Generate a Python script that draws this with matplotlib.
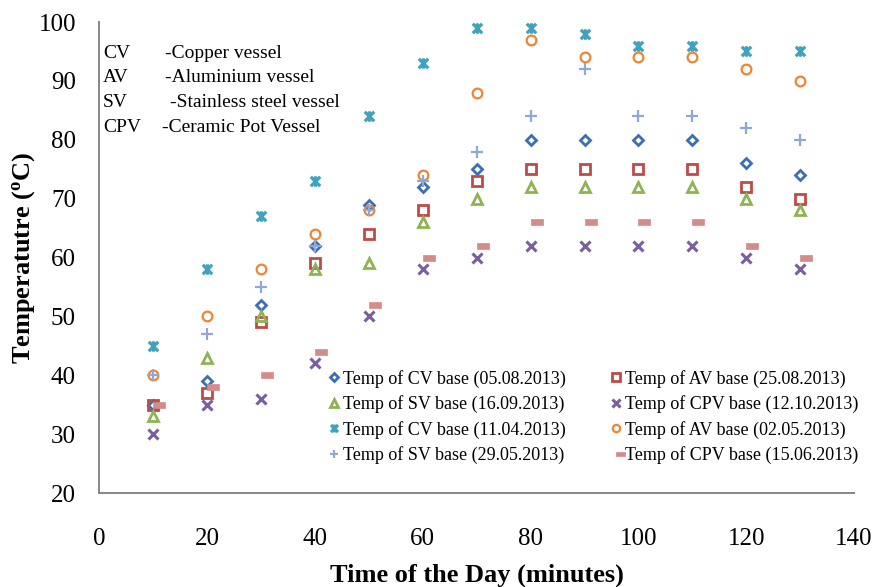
import numpy as np
import matplotlib
matplotlib.use('Agg')
import matplotlib.pyplot as plt
from matplotlib.path import Path

plt.rcParams['font.family'] = ['Liberation Serif', 'DejaVu Serif']
plt.rcParams['mathtext.fontset'] = 'custom'
plt.rcParams['mathtext.rm'] = 'Liberation Serif'
plt.rcParams['mathtext.bf'] = 'Liberation Serif:bold'

# data (minutes, deg C)
minutes = [10, 20, 30, 40, 50, 60, 70, 80, 90, 100, 110, 120, 130]
cv_0508 = [35, 39, 52, 62, 69, 72, 75, 80, 80, 80, 80, 76, 74]
av_2508 = [35, 37, 49, 59, 64, 68, 73, 75, 75, 75, 75, 72, 70]
sv_1609 = [33, 43, 50, 58, 59, 66, 70, 72, 72, 72, 72, 70, 68]
cpv_1210 = [30, 35, 36, 42, 50, 58, 60, 62, 62, 62, 62, 60, 58]
cv_1104 = [45, 58, 67, 73, 84, 93, 99, 99, 98, 96, 96, 95, 95]
av_0205 = [40, 50, 58, 64, 68, 74, 88, 97, 94, 94, 94, 92, 90]
sv_2905 = [40, 47, 55, 62, 68, 73, 78, 84, 92, 84, 84, 82, 80]
cpv_1506 = [35, 38, 40, 44, 52, 60, 62, 66, 66, 66, 66, 62, 60]

labels = ['Temp of CV base (05.08.2013)', 'Temp of AV base (25.08.2013)',
          'Temp of SV base (16.09.2013)', 'Temp of CPV base (12.10.2013)',
          'Temp of CV base (11.04.2013)', 'Temp of AV base (02.05.2013)',
          'Temp of SV base (29.05.2013)', 'Temp of CPV base (15.06.2013)']

# excel style markers
star = Path([(-1, -1), (1, 1), (-1, 1), (1, -1), (0, -1.1), (0, 1.1)],
            [Path.MOVETO, Path.LINETO, Path.MOVETO, Path.LINETO, Path.MOVETO, Path.LINETO])
dash = Path([(0, -0.25), (1, -0.25), (1, 0.25), (0, 0.25), (0, -0.25)],
            [Path.MOVETO, Path.LINETO, Path.LINETO, Path.LINETO, Path.CLOSEPOLY])

fig = plt.figure(figsize=(8.82, 5.87), dpi=100)
ax = fig.add_axes([0.1128, 0.1601, 0.8555, 0.8024])

series = [
    (cv_0508, dict(marker='D', ms=5.5, mfc='none', mec='#3D6DB3', mew=2)),
    (av_2508, dict(marker='s', ms=7, mfc='none', mec='#BE4B48', mew=2)),
    (sv_1609, dict(marker='^', ms=7, mfc='none', mec='#8FB350', mew=2)),
    (cpv_1210, dict(marker='x', ms=7.5, mec='#7A5FA0', mew=2.2)),
    (cv_1104, dict(marker=star, ms=7.5, mfc='none', mec='#3FA3BF', mew=2.3)),
    (av_0205, dict(marker='o', ms=7, mfc='none', mec='#EE8533', mew=1.6)),
    (sv_2905, dict(marker='+', ms=8, mec='#8FA8D6', mew=1.6)),
    (cpv_1506, dict(marker=dash, ms=17, mfc='#D48C8B', mec='#D48C8B', mew=0.5)),
]

handles = []
for (vals, style), lab in zip(series, labels):
    h, = ax.plot(minutes, vals, linestyle='none', label=lab, **style)
    handles.append(h)

ax.set_xlim(0, 140)
ax.set_ylim(20, 100)
ax.set_xticks(np.arange(0, 141, 20))
ax.set_yticks(np.arange(20, 101, 10))
ax.tick_params(axis='both', length=0, labelsize=18)
ax.tick_params(axis='x', pad=25)
ax.tick_params(axis='y', pad=17)
for s in ['top', 'right']:
    ax.spines[s].set_visible(False)
for s in ['left', 'bottom']:
    ax.spines[s].set_color('#868686')
    ax.spines[s].set_linewidth(1.4)

ax.set_xlabel('Time of the Day (minutes)', fontsize=19, fontweight='bold', labelpad=10)
ax.set_ylabel(r'Temperatutre ($\mathbf{^o}$C)', fontsize=19, fontweight='bold', labelpad=1)

# abbreviations box
abbr = ['CV', 'AV', 'SV', 'CPV']
desc = ['-Copper vessel', '-Aluminium vessel', '-Stainless steel vessel', '-Ceramic Pot Vessel']
desc_x = [165, 165, 170, 162]
for i in range(4):
    y = 1 - (53 + 24.8 * i) / 587
    fig.text(103 / 882, y, abbr[i], fontsize=14, va='center', ha='left')
    fig.text(desc_x[i] / 882, y, desc[i], fontsize=14, va='center', ha='left')

order = [0, 2, 4, 6, 1, 3, 5, 7]
ax.legend([handles[i] for i in order], [labels[i] for i in order], ncol=2,
          loc='upper left', bbox_to_anchor=(0.291, 0.281), frameon=False,
          fontsize=13, markerscale=0.75, handlelength=0.6, handletextpad=0.2,
          columnspacing=2.5, labelspacing=0.42, borderpad=0)

fig.savefig('out.png', dpi=100)
